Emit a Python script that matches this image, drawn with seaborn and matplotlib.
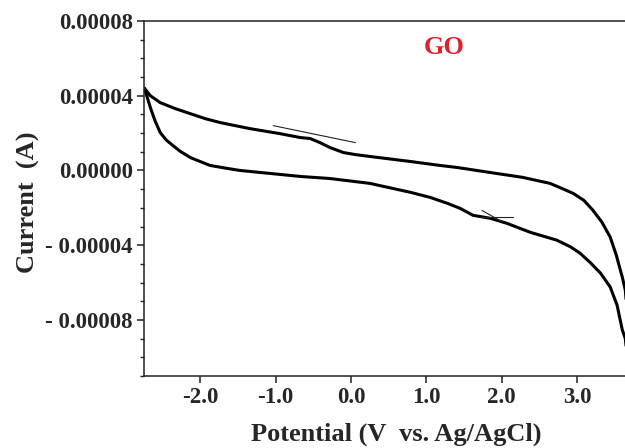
import numpy as np
import matplotlib
matplotlib.use("Agg")
import matplotlib.pyplot as plt
import seaborn as sns
from matplotlib.ticker import MultipleLocator

# ---- data (potential in V, current in units of 1e-5 A) ----
upper_v = [-2.74, -2.66, -2.53, -2.33, -2.13, -1.93, -1.73, -1.34, -0.94, -0.67,
           -0.54, -0.41, -0.28, -0.10, 0.06, 0.25, 0.79, 1.18, 1.41, 1.85,
           2.28, 2.64, 2.77, 2.95, 3.09, 3.21, 3.33, 3.44, 3.52, 3.60,
           3.64, 3.68, 3.72]
upper_i = [4.40, 4.00, 3.63, 3.31, 3.04, 2.77, 2.56, 2.24, 1.97, 1.76,
           1.71, 1.49, 1.23, 0.96, 0.85, 0.75, 0.48, 0.27, 0.16, -0.11,
           -0.37, -0.69, -0.91, -1.23, -1.60, -2.13, -2.77, -3.57, -4.53, -5.71,
           -6.40, -8.50, -11.5]

lower_v = [-2.74, -2.70, -2.66, -2.60, -2.53, -2.45, -2.36, -2.27, -2.13, -2.00,
           -1.87, -1.67, -1.47, -1.07, -0.67, -0.28, 0.25, 0.79, 1.05, 1.28,
           1.45, 1.62, 1.85, 2.07, 2.38, 2.73, 2.91, 3.04, 3.17, 3.31,
           3.44, 3.53, 3.60, 3.64, 3.70]
lower_i = [4.40, 3.89, 3.36, 2.67, 2.03, 1.63, 1.33, 1.04, 0.69, 0.48,
           0.27, 0.13, 0.00, -0.16, -0.32, -0.43, -0.69, -1.17, -1.44, -1.76,
           -2.03, -2.40, -2.56, -2.83, -3.31, -3.73, -4.08, -4.43, -4.91, -5.49,
           -6.24, -7.20, -8.53, -9.00, -11.5]

tan1_v = [-1.03, 0.06]
tan1_i = [2.40, 1.49]
tan2a_v = [1.74, 2.02]
tan2a_i = [-2.14, -2.78]
tan2b_v = [1.71, 2.15]
tan2b_i = [-2.51, -2.51]

scale = 1e-5

x_ticks = [-2.0, -1.0, 0.0, 1.0, 2.0, 3.0]
x_tick_labels = ["-2.0", "-1.0", "0.0", "1.0", "2.0", "3.0"]
y_ticks = [8e-5, 4e-5, 0.0, -4e-5, -8e-5]
y_tick_labels = ["0.00008", "0.00004", "0.00000", "- 0.00004", "- 0.00008"]

# ---- style ----
sns.set_style("ticks")
plt.rcParams["font.family"] = ["Liberation Serif", "DejaVu Serif"]
plt.rcParams["font.weight"] = "bold"

fig = plt.figure(figsize=(6.25, 4.48), dpi=100)
ax = fig.add_axes([144 / 625, 1 - 376 / 448, 493 / 625, 355 / 448])

sns.lineplot(x=upper_v, y=np.array(upper_i) * scale, sort=False, estimator=None,
             color="black", linewidth=2.2, solid_joinstyle="round", ax=ax)
sns.lineplot(x=lower_v, y=np.array(lower_i) * scale, sort=False, estimator=None,
             color="black", linewidth=2.2, solid_joinstyle="round", ax=ax)
for tv, ti in [(tan1_v, tan1_i), (tan2a_v, tan2a_i), (tan2b_v, tan2b_i)]:
    sns.lineplot(x=tv, y=np.array(ti) * scale, sort=False, estimator=None,
                 color="#222222", linewidth=0.8, ax=ax)

ax.set_xlim(-2.745, 3.795)
ax.set_ylim(-11e-5, 8e-5)
ax.set_xticks(x_ticks, labels=x_tick_labels)
ax.set_yticks(y_ticks, labels=y_tick_labels)
ax.yaxis.set_minor_locator(MultipleLocator(1e-5))

for lab in ax.get_xticklabels() + ax.get_yticklabels():
    lab.set_fontweight("bold")
    lab.set_fontsize(16.5)

ax.tick_params(axis="both", which="major", direction="out", length=5, width=1.1,
               color="#222222", pad=3)
ax.tick_params(axis="y", which="minor", direction="out", length=3, width=1.0,
               color="#222222")

for s in ax.spines.values():
    s.set_linewidth(1.1)
    s.set_color("#222222")

ax.set_xlabel("Potential (V  vs. Ag/AgCl)", fontsize=19, fontweight="bold")
ax.set_ylabel("Current  (A)", fontsize=19, fontweight="bold")
ax.xaxis.set_label_coords(0.511, -0.13)
ax.yaxis.set_label_coords(-0.21, 0.49)

ax.text(0.609, 0.925, "GO", transform=ax.transAxes, color="#e0202a",
        fontsize=19, fontweight="bold", ha="center", va="center")

fig.savefig("out.png", dpi=100)
